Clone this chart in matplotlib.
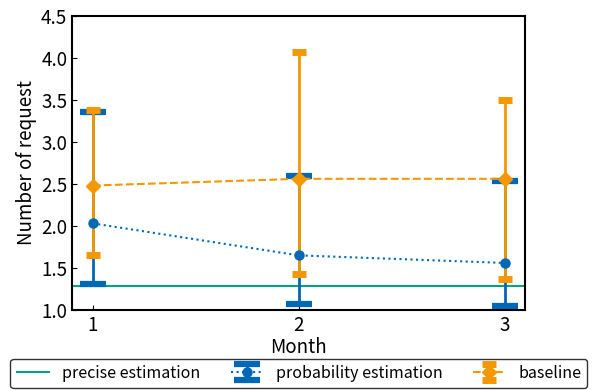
import matplotlib.pyplot as plt

plt.rcParams['font.family'] = ['Noto Sans CJK JP', 'DejaVu Sans']
plt.rcParams['font.size'] = 11

# data
months = [1, 2, 3]
precise = 1.28

prob_mean = [2.03, 1.65, 1.56]
prob_low = [1.31, 1.07, 1.05]
prob_high = [3.36, 2.59, 2.53]

base_mean = [2.48, 2.56, 2.56]
base_low = [1.66, 1.43, 1.37]
base_high = [3.38, 4.07, 3.50]

blue = '#0068b7'
orange = '#f39800'
green = '#00a381'

fig, ax = plt.subplots(figsize=(5.92, 3.9), dpi=100)
fig.subplots_adjust(left=0.122, right=0.887, top=0.96, bottom=0.205)

ax.axhline(precise, color=green, lw=1.5, label='precise estimation')

perr = [[m - l for m, l in zip(prob_mean, prob_low)],
        [h - m for m, h in zip(prob_mean, prob_high)]]
ax.errorbar(months, prob_mean, yerr=perr, color=blue, ls=':', lw=1.5,
            marker='o', ms=6.5, elinewidth=2, capsize=9.5, capthick=4.5,
            label='probability estimation')

berr = [[m - l for m, l in zip(base_mean, base_low)],
        [h - m for m, h in zip(base_mean, base_high)]]
ax.errorbar(months, base_mean, yerr=berr, color=orange, ls='--', lw=1.5,
            marker='D', ms=7, elinewidth=2, capsize=5, capthick=5,
            label='baseline')

ax.set_xlim(0.9, 3.1)
ax.set_ylim(1.0, 4.5)
ax.set_xticks(months)
ax.tick_params(direction='in', labelsize=13.5)
for s in ax.spines.values():
    s.set_linewidth(1.5)
ax.set_xlabel('Month', fontsize=13.5, labelpad=1)
ax.set_ylabel('Number of request', fontsize=13.5, labelpad=3)

fig.legend(loc='lower left', bbox_to_anchor=(0.015, 0.0, 0.98, 0.07),
           mode='expand', ncol=3, fontsize=11.5, frameon=True,
           edgecolor='black', fancybox=True, borderaxespad=0.1)

fig.savefig('out.png')
